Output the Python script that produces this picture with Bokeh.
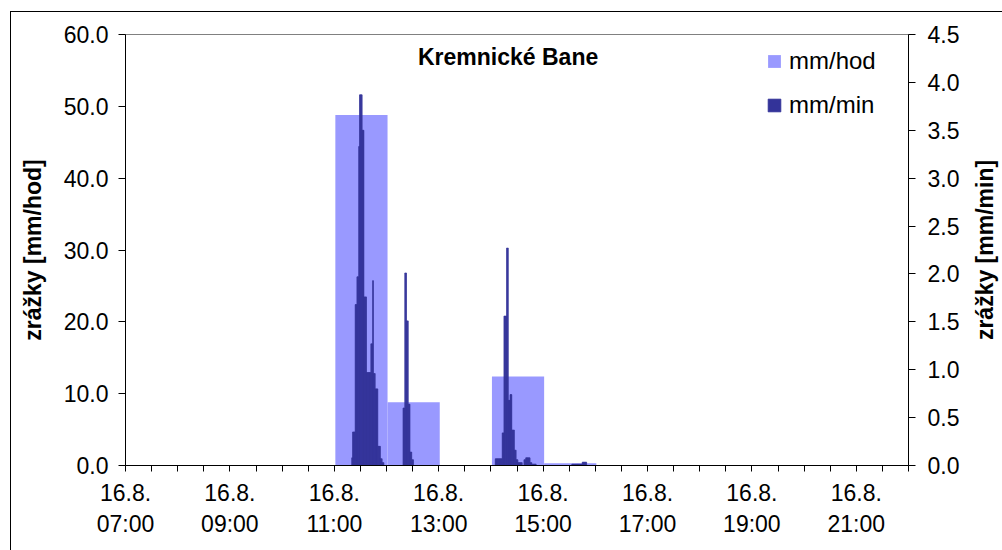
import math
from bokeh.plotting import figure
from bokeh.layouts import row
from bokeh.models import (Range1d, LinearAxis, FixedTicker, NumeralTickFormatter,
                          Legend, LegendItem, Label)
from bokeh.embed import file_html
from bokeh.resources import INLINE

# ---------------- data ----------------
date_label = "16.8."
x_start, x_end = "07:00", "22:00"
tick_times = ["07:00", "09:00", "11:00", "13:00", "15:00", "17:00", "19:00", "21:00"]
left_ticks = [0, 10, 20, 30, 40, 50, 60]
right_ticks = [0.0, 0.5, 1.0, 1.5, 2.0, 2.5, 3.0, 3.5, 4.0, 4.5]

# hourly totals (mm/hod), bar spans the hour starting at hour_starts
hour_starts = ["11:00", "12:00", "14:00", "15:00"]
hour_mm = [48.8, 8.8, 12.4, 0.3]

# per-minute intensities (mm/min), consecutive minutes from the start time
c1_start = "11:20"
c1_vals = [0.08, 0.35, 0.35, 0.35, 1.68, 1.68, 1.97, 1.97, 3.33, 3.87, 3.87, 3.87,
           3.50, 3.50, 1.76, 1.76, 1.76, 0.97, 0.97, 0.97, 0.97, 0.97, 1.27, 1.27,
           1.93, 0.96, 0.96, 0.80, 0.80, 0.80, 0.20, 0.20, 0.20, 0.07, 0.07, 0.03, 0.03]
c2_start = "12:19"
c2_vals = [0.60, 0.60, 2.01, 2.01, 1.51, 1.51, 0.64, 0.64, 0.14, 0.14, 0.06, 0.06]
c3_start = "14:05"
c3_vals = [0.07, 0.07, 0.07, 0.07, 0.07, 0.07, 0.07, 0.07, 0.34, 0.34, 1.56, 1.56,
           1.56, 2.27, 2.27, 0.68, 0.68, 0.74, 0.74, 0.37, 0.37, 0.37, 0.16, 0.16,
           0.06, 0.06, 0.03, 0.03, 0.03, 0.03, 0.03, 0.0, 0.0, 0.06, 0.06, 0.08,
           0.08, 0.08, 0.08, 0.08, 0.03, 0.03, 0.015, 0.015, 0.015, 0.015, 0.015]
c4_start = "15:33"
c4_vals = [0.015, 0.015, 0.015, 0.015, 0.015, 0.015, 0.015, 0.015, 0.015, 0.015,
           0.015, 0.015, 0.035, 0.035, 0.035, 0.035, 0.035]

series_names = ["mm/hod", "mm/min"]
title_text = "Kremnické Bane"
left_label = "zrážky [mm/hod]"
right_label = "zrážky [mm/min]"

# ---------------- helpers ----------------
def to_h(s):
    h, m = s.split(":")
    return int(h) + int(m) / 60.0

FONT = "Liberation Sans"
FS = "23px"
LIGHT = "#9999FF"
DARK = "#333399"
FRAME_W, FRAME_H = 783, 431
TOP, BOTTOM = 22, 85

min_x, min_top = [], []
for start, vals in [(c1_start, c1_vals), (c2_start, c2_vals), (c3_start, c3_vals), (c4_start, c4_vals)]:
    s = to_h(start)
    for i, v in enumerate(vals):
        min_x.append(s + (i + 0.5) / 60.0)
        min_top.append(v)

h_left = [to_h(s) + 0.02 for s in hour_starts]
h_right = [v + 1.0 for v in h_left]

# ---------------- main figure ----------------
yr = Range1d(left_ticks[0], left_ticks[-1])
p = figure(frame_width=FRAME_W, frame_height=FRAME_H,
           x_range=Range1d(to_h(x_start), to_h(x_end)), y_range=yr,
           output_backend="svg", toolbar_location=None,
           min_border_left=114, min_border_right=62,
           min_border_top=TOP, min_border_bottom=BOTTOM,
           background_fill_color="white", border_fill_color="white")
p.extra_y_ranges = {"min": Range1d(right_ticks[0], right_ticks[-1])}
p.xgrid.visible = False
p.ygrid.visible = False
p.outline_line_color = "#808080"
p.outline_line_width = 1

r_hour = p.quad(left=h_left, right=h_right, bottom=0, top=hour_mm,
                fill_color=LIGHT, line_color=None)
r_min = p.vbar(x=min_x, width=1 / 60.0, bottom=0, top=min_top, y_range_name="min",
               fill_color=DARK, line_color=DARK, line_width=0.7)

def style_axis(ax):
    ax.axis_line_color = "black"
    ax.axis_line_width = 1
    ax.major_tick_line_color = "black"
    ax.major_tick_in = 0
    ax.major_tick_out = 7
    ax.minor_tick_line_color = None
    ax.major_label_text_font = FONT
    ax.major_label_text_font_size = FS
    ax.major_label_text_color = "black"
    ax.axis_label_text_font = FONT
    ax.axis_label_text_font_size = FS
    ax.axis_label_text_font_style = "bold"
    ax.axis_label_text_color = "black"

# left axis
ly = p.yaxis[0]
style_axis(ly)
ly.ticker = FixedTicker(ticks=left_ticks)
ly.formatter = NumeralTickFormatter(format="0.0")
ly.axis_label = left_label
ly.major_label_standoff = 10
ly.axis_label_standoff = 15

# right axis
ry = LinearAxis(y_range_name="min")
style_axis(ry)
ry.ticker = FixedTicker(ticks=right_ticks)
ry.formatter = NumeralTickFormatter(format="0.0")
ry.major_label_standoff = 12
p.add_layout(ry, "right")

# bottom axis
bx = p.xaxis[0]
style_axis(bx)
bx.major_tick_out = 6
xt = [to_h(x_start) + 0.5 * i for i in range(int((to_h(x_end) - to_h(x_start)) * 2) + 1)]
bx.ticker = FixedTicker(ticks=xt)
lab_pos = {to_h(t): t for t in tick_times}
overrides = {}
for t in xt:
    key = int(t) if float(t).is_integer() else t
    overrides[key] = f"{date_label}\n{lab_pos[t]}" if t in lab_pos else ""
bx.major_label_overrides = overrides
bx.major_label_standoff = 8

# legend
legend = Legend(items=[LegendItem(label=series_names[0], renderers=[r_hour]),
                       LegendItem(label=series_names[1], renderers=[r_min])],
                location=(641, 346), orientation="vertical",
                border_line_color=None, background_fill_alpha=0,
                padding=0, margin=0, spacing=16,
                glyph_width=16, glyph_height=16, label_height=24,
                label_standoff=7, label_text_font=FONT, label_text_font_size="24px",
                label_text_color="black")
p.add_layout(legend)

# chart title inside plot area
p.add_layout(Label(x=14.33, y=56.9, text=title_text, text_align="center",
                   text_baseline="middle", text_font=FONT, text_font_size=FS,
                   text_font_style="bold", text_color="black"))

# ---------------- right axis title (narrow strip, reads bottom-to-top) ----------------
p2 = figure(frame_width=32, frame_height=FRAME_H, x_range=Range1d(0, 1), y_range=yr,
            output_backend="svg", toolbar_location=None,
            min_border_left=0, min_border_right=0,
            min_border_top=TOP, min_border_bottom=BOTTOM,
            background_fill_color="white", border_fill_color="white")
p2.axis.visible = False
p2.xgrid.visible = False
p2.ygrid.visible = False
p2.outline_line_color = None
p2.add_layout(Label(x=0.45, y=(left_ticks[0] + left_ticks[-1]) / 2, text=right_label,
                    angle=math.pi / 2, text_align="center", text_baseline="middle",
                    text_font=FONT, text_font_size=FS, text_font_style="bold",
                    text_color="black"))

layout = row(p, p2, spacing=0)
layout.styles = {"border-left": "1px solid black", "border-top": "1px solid black"}
layout.margin = (11, 0, 0, 10)

open("out.html", "w").write(file_html(layout, INLINE))
